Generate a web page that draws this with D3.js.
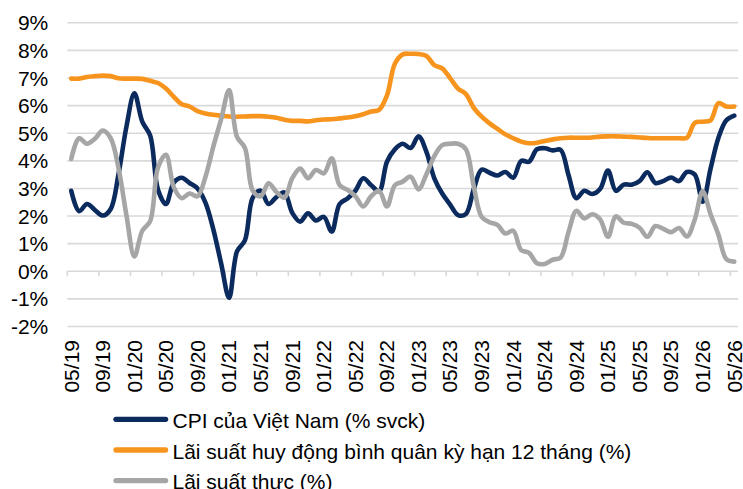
<!DOCTYPE html>
<html>
<head>
<meta charset="utf-8">
<script src="https://cdn.jsdelivr.net/npm/d3@7/dist/d3.min.js"></script>
<style>
  html, body { margin: 0; padding: 0; background: #fff; }
  svg text { font-family: "Liberation Sans", Arial, sans-serif; fill: #000; }
</style>
</head>
<body>
<svg id="chart" width="743" height="489"></svg>
<script>
// Months, 05/2019 – 05/2026
const months = [
  "05/19","06/19","07/19","08/19","09/19","10/19","11/19","12/19",
  "01/20","02/20","03/20","04/20","05/20","06/20","07/20","08/20","09/20","10/20","11/20","12/20",
  "01/21","02/21","03/21","04/21","05/21","06/21","07/21","08/21","09/21","10/21","11/21","12/21",
  "01/22","02/22","03/22","04/22","05/22","06/22","07/22","08/22","09/22","10/22","11/22","12/22",
  "01/23","02/23","03/23","04/23","05/23","06/23","07/23","08/23","09/23","10/23","11/23","12/23",
  "01/24","02/24","03/24","04/24","05/24","06/24","07/24","08/24","09/24","10/24","11/24","12/24",
  "01/25","02/25","03/25","04/25","05/25","06/25","07/25","08/25","09/25","10/25","11/25","12/25",
  "01/26","02/26","03/26","04/26","05/26"
];

// CPI của Việt Nam (% svck)
const cpi = [
  2.90, 2.16, 2.42, 2.20, 2.00, 2.24, 3.52, 5.23,
  6.43, 5.40, 4.90, 2.93, 2.42, 3.20, 3.37, 3.18, 2.98, 2.47, 1.50, 0.25,
  -0.98, 0.70, 1.10, 2.65, 2.90, 2.42, 2.67, 2.84, 2.10, 1.78, 2.08, 1.82,
  1.95, 1.42, 2.42, 2.62, 2.90, 3.35, 3.10, 2.88, 3.95, 4.40, 4.60, 4.45,
  4.87, 4.31, 3.35, 2.80, 2.40, 2.02, 2.06, 2.96, 3.66, 3.55, 3.45, 3.58,
  3.37, 3.98, 3.95, 4.40, 4.44, 4.36, 4.38, 3.47, 2.63, 2.90, 2.78, 2.96,
  3.63, 2.90, 3.12, 3.12, 3.25, 3.57, 3.18, 3.25, 3.38, 3.25, 3.58, 3.48,
  2.50, 3.70, 4.82, 5.45, 5.62
];

// Lãi suất huy động bình quân kỳ hạn 12 tháng (%)
const depositRate = [
  6.96, 6.96, 7.02, 7.05, 7.07, 7.05, 6.97, 6.96,
  6.96, 6.95, 6.88, 6.80, 6.60, 6.30, 6.03, 5.95, 5.78, 5.70, 5.65, 5.62,
  5.59, 5.58, 5.59, 5.60, 5.60, 5.58, 5.54, 5.47, 5.43, 5.43, 5.41, 5.45,
  5.48, 5.49, 5.52, 5.55, 5.60, 5.67, 5.77, 5.83, 6.35, 7.50, 7.84, 7.86,
  7.85, 7.78, 7.45, 7.33, 6.98, 6.60, 6.40, 5.90, 5.58, 5.34, 5.14, 4.94,
  4.80, 4.68, 4.62, 4.64, 4.70, 4.76, 4.80, 4.82, 4.82, 4.82, 4.83, 4.86,
  4.87, 4.87, 4.86, 4.85, 4.83, 4.81, 4.80, 4.80, 4.80, 4.80, 4.82, 5.36,
  5.40, 5.45, 6.07, 5.95, 5.95
];

// Lãi suất thực (%)
const realRate = [
  4.05, 4.80, 4.60, 4.78, 5.08, 4.80, 3.70, 2.00,
  0.52, 1.45, 1.80, 3.75, 4.20, 3.02, 2.63, 2.80, 2.70, 3.40, 4.50, 5.50,
  6.55, 4.85, 4.45, 2.90, 2.70, 3.17, 2.85, 2.65, 3.35, 3.70, 3.35, 3.65,
  3.53, 4.07, 3.10, 2.93, 2.70, 2.33, 2.70, 2.90, 2.33, 3.10, 3.23, 3.41,
  2.95, 3.50, 4.15, 4.55, 4.60, 4.60, 4.40, 3.05, 1.95, 1.76, 1.66, 1.35,
  1.45, 0.75, 0.65, 0.27, 0.25, 0.40, 0.48, 1.40, 2.17, 1.90, 2.05, 1.87,
  1.23, 1.97, 1.74, 1.70, 1.56, 1.23, 1.62, 1.52, 1.40, 1.55, 1.24, 1.86,
  2.88, 2.05, 1.30, 0.42, 0.33
];

// Axis ticks
const yTicks = [-2, -1, 0, 1, 2, 3, 4, 5, 6, 7, 8, 9];
const xTickLabels = ["05/19","09/19","01/20","05/20","09/20","01/21","05/21","09/21",
  "01/22","05/22","09/22","01/23","05/23","09/23","01/24","05/24","09/24","01/25",
  "05/25","09/25","01/26","05/26"];

const seriesNames = [
  "CPI của Việt Nam (% svck)",
  "Lãi suất huy động bình quân kỳ hạn 12 tháng (%)",
  "Lãi suất thực (%)"
];
const seriesColors = ["#0b2b5e", "#f7941d", "#a6a6a6"];
const seriesValues = [cpi, depositRate, realRate];

const svg = d3.select("#chart");
const plotLeft = 67.3, plotRight = 738.2, plotTop = 22.3, plotBottom = 326;

const x = d3.scaleBand().domain(months).range([plotLeft, plotRight]).padding(0);
const y = d3.scaleLinear().domain([-2, 9]).range([plotBottom, plotTop]);
const bw = x.bandwidth();
const cx = m => x(m) + bw / 2;

// Horizontal gridlines and percent labels
const yAxis = svg.append("g")
  .attr("transform", `translate(${plotLeft},0)`)
  .call(d3.axisLeft(y).tickValues(yTicks)
    .tickSize(-(plotRight - plotLeft))
    .tickPadding(19)
    .tickFormat(d => d + "%"));
yAxis.select(".domain").remove();
yAxis.selectAll(".tick line").attr("stroke", "#d9d9d9").attr("stroke-width", 1.6);
yAxis.selectAll(".tick text")
  .attr("font-size", 21)
  .attr("dy", "0.36em")
  .style("font-family", "'Liberation Sans', Arial, sans-serif");

// Category tick marks along the 0% line
const y0 = y(0);
svg.append("g").selectAll("line")
  .data(xTickLabels)
  .join("line")
  .attr("x1", d => x(d)).attr("x2", d => x(d))
  .attr("y1", y0).attr("y2", y0 + 5.5)
  .attr("stroke", "#d9d9d9").attr("stroke-width", 1.6);

// Rotated month labels
svg.append("g").selectAll("text")
  .data(xTickLabels)
  .join("text")
  .attr("transform", d => `translate(${cx(d)},340) rotate(-90)`)
  .attr("text-anchor", "end")
  .attr("dy", "0.35em")
  .attr("font-size", 21)
  .text(d => d);

// Smoothed series lines
const line = d3.line()
  .x((d, i) => cx(months[i]))
  .y(d => y(d))
  .curve(d3.curveCatmullRom.alpha(0.5));

svg.append("g").selectAll("path")
  .data(seriesValues)
  .join("path")
  .attr("d", d => line(d))
  .attr("fill", "none")
  .attr("stroke", (d, i) => seriesColors[i])
  .attr("stroke-width", 4.6)
  .attr("stroke-linejoin", "round")
  .attr("stroke-linecap", "round");

// Legend
const legendRows = [419.3, 450, 480.6];
const legend = svg.append("g").selectAll("g")
  .data(seriesNames)
  .join("g")
  .attr("transform", (d, i) => `translate(0,${legendRows[i]})`);
legend.append("line")
  .attr("x1", 116).attr("x2", 165.6)
  .attr("y1", 0).attr("y2", 0)
  .attr("stroke", (d, i) => seriesColors[i])
  .attr("stroke-width", 5.3)
  .attr("stroke-linecap", "round");
legend.append("text")
  .attr("x", 172.5)
  .attr("y", 1.5)
  .attr("dy", "0.35em")
  .attr("font-size", 21)
  .text(d => d);
</script>
</body>
</html>
